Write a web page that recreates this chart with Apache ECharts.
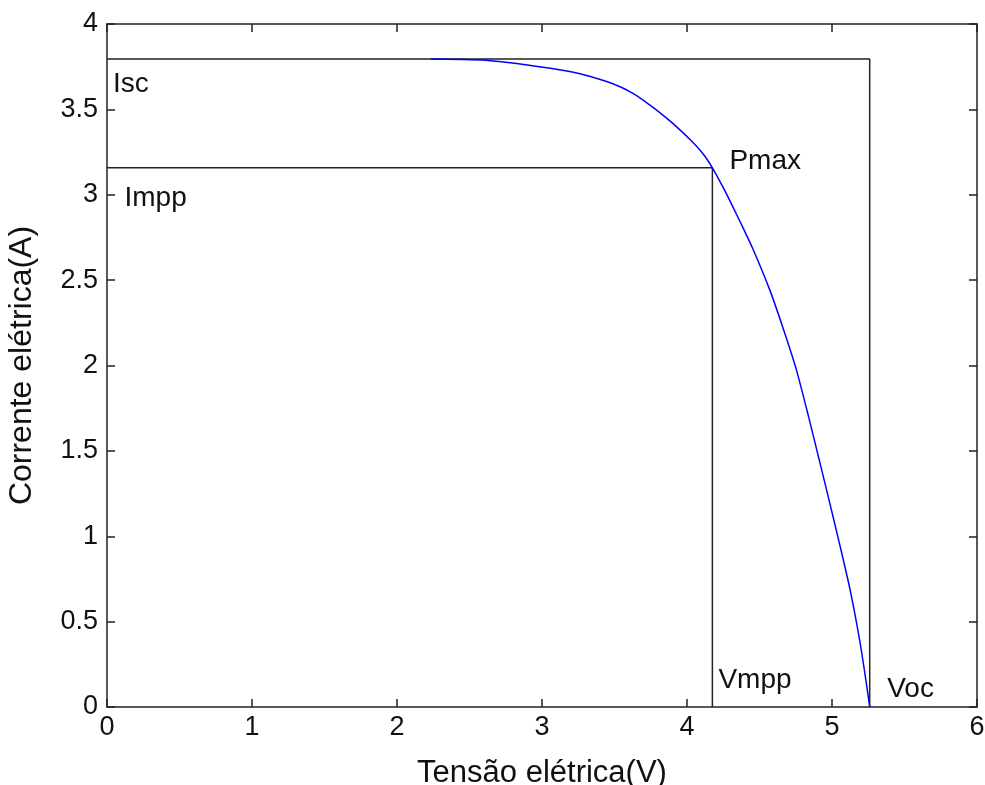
<!DOCTYPE html>
<html>
<head>
<meta charset="utf-8">
<script src="https://cdn.jsdelivr.net/npm/echarts@6/dist/echarts.min.js"></script>
<style>
html,body{margin:0;padding:0;background:#fff;}
#chart{width:985px;height:785px;}
</style>
</head>
<body>
<div id="chart"></div>
<script>
// ---- data ----
const xTicks = [0, 1, 2, 3, 4, 5, 6];
const yTicks = [0, 0.5, 1, 1.5, 2, 2.5, 3, 3.5, 4];
const curveV = [2.234, 2.45, 2.607, 2.75, 2.90, 3.078, 3.262, 3.446, 3.55, 3.63, 3.70, 3.768, 3.84, 3.906, 4.021, 4.113, 4.175, 4.25, 4.319, 4.39, 4.457, 4.572, 4.664, 4.756, 4.837, 4.917, 4.986, 5.055, 5.124, 5.193, 5.235, 5.26];
const curveI = [3.795, 3.792, 3.788, 3.776, 3.760, 3.738, 3.709, 3.663, 3.628, 3.592, 3.553, 3.510, 3.462, 3.415, 3.323, 3.237, 3.158, 3.042, 2.925, 2.800, 2.678, 2.440, 2.215, 1.970, 1.705, 1.430, 1.190, 0.945, 0.690, 0.380, 0.150, 0.0];
const Isc = 3.795;
const Impp = 3.158;
const Vmpp = 4.175;
const Voc = 5.26;
const annotNames = ['Isc', 'Impp', 'Pmax', 'Vmpp', 'Voc'];
const annotV = [0, 0, Vmpp, Vmpp, Voc];
const annotI = [Isc, Impp, Impp, 0, 0];

// ---- style ----
const labelOffsets = [[6, 25], [17.5, 31], [17, -6], [6, -27], [17.5, -18]];
const FONT = '"Liberation Sans", Arial, sans-serif';
const AX = '#222';

const chart = echarts.init(document.getElementById('chart'), null, {renderer: 'canvas'});

const curveData = curveV.map((v, i) => [v, curveI[i]]);
const iscLine = [[0, Isc], [Voc, Isc], [Voc, 0]];
const imppLine = [[0, Impp], [Vmpp, Impp], [Vmpp, 0]];
const annotData = annotNames.map((n, i) => ({
  value: [annotV[i], annotI[i]],
  name: n,
  label: {offset: labelOffsets[i]}
}));

const axisCommon = {
  type: 'value',
  axisLine: {show: true, onZero: false, lineStyle: {color: AX, width: 1.5}},
  axisTick: {show: true, inside: true, length: 8, lineStyle: {color: AX, width: 1.5}},
  splitLine: {show: false}
};

const option = {
  backgroundColor: '#fff',
  animation: false,
  grid: {left: 107, right: 8, top: 24, bottom: 78, containLabel: false, outerBoundsMode: 'none'},
  xAxis: [
    Object.assign({}, axisCommon, {
      min: xTicks[0], max: xTicks[xTicks.length - 1], interval: 1, position: 'bottom',
      axisLabel: {show: true, color: '#111', fontFamily: FONT, fontSize: 27, margin: 7,
        formatter: v => String(v)},
      name: 'Tensão elétrica(V)', nameLocation: 'middle', nameGap: 51,
      nameTextStyle: {color: '#111', fontFamily: FONT, fontSize: 31}
    }),
    Object.assign({}, axisCommon, {
      min: xTicks[0], max: xTicks[xTicks.length - 1], interval: 1, position: 'top',
      axisLabel: {show: false}
    })
  ],
  yAxis: [
    Object.assign({}, axisCommon, {
      min: yTicks[0], max: yTicks[yTicks.length - 1], interval: 0.5, position: 'left',
      axisLabel: {show: true, color: '#111', fontFamily: FONT, fontSize: 27, margin: 9,
        formatter: v => String(v)},
      name: 'Corrente elétrica(A)', nameLocation: 'middle', nameGap: 69, nameRotate: 90,
      nameTextStyle: {color: '#111', fontFamily: FONT, fontSize: 32}
    }),
    Object.assign({}, axisCommon, {
      min: yTicks[0], max: yTicks[yTicks.length - 1], interval: 0.5, position: 'right',
      axisLabel: {show: false}
    })
  ],
  series: [
    {
      type: 'line', data: iscLine, showSymbol: false, symbol: 'none',
      lineStyle: {color: AX, width: 1.5}, z: 2, silent: true
    },
    {
      type: 'line', data: imppLine, showSymbol: false, symbol: 'none',
      lineStyle: {color: AX, width: 1.5}, z: 2, silent: true
    },
    {
      type: 'line', data: curveData, showSymbol: false, symbol: 'none',
      smooth: 0.2,
      lineStyle: {color: '#0000ff', width: 1.5}, z: 3, silent: true
    },
    {
      type: 'scatter', data: annotData, symbolSize: 0,
      itemStyle: {color: '#000', opacity: 1},
      label: {
        show: true, position: [0, 0], align: 'left', verticalAlign: 'middle',
        formatter: p => p.name, color: '#111', fontFamily: FONT, fontSize: 28,
        textBorderWidth: 0
      },
      z: 4, silent: true
    }
  ]
};
chart.setOption(option);
</script>
</body>
</html>
